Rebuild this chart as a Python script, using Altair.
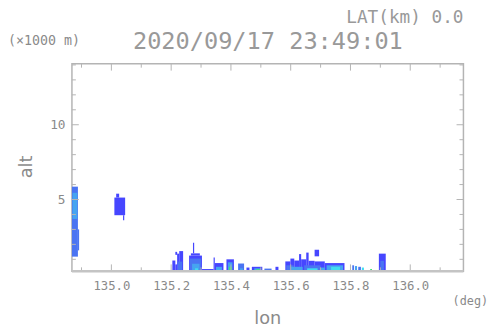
import altair as alt
import pandas as pd

# ---- data ----
lon_domain = [134.868, 136.178]
alt_domain = [0.2, 14.08]

echo_lon0 = [134.868, 134.888, 134.870,
             135.010, 135.016, 135.039,
             135.204, 135.214, 135.214, 135.220, 135.227, 135.222,
             135.260, 135.266, 135.273, 135.263, 135.270, 135.280, 135.303,
             135.342, 135.346, 135.350, 135.355,
             135.385, 135.390, 135.393,
             135.424, 135.430,
             135.452,
             135.470, 135.478, 135.485, 135.489, 135.512, 135.516, 135.549,
             135.582, 135.599, 135.612, 135.628, 135.635, 135.652, 135.660, 135.680, 135.680, 135.714,
             135.585, 135.600, 135.645, 135.655, 135.720, 135.735, 135.700,
             135.806, 135.815, 135.826, 135.838, 135.866,
             135.895, 135.900]
echo_lon1 = [134.888, 134.892, 134.886,
             135.046, 135.026, 135.043,
             135.214, 135.220, 135.220, 135.227, 135.240, 135.237,
             135.303, 135.296, 135.277, 135.300, 135.295, 135.290, 135.342,
             135.346, 135.375, 135.370, 135.365,
             135.410, 135.405, 135.403,
             135.444, 135.440,
             135.462,
             135.505, 135.500, 135.497, 135.494, 135.536, 135.530, 135.559,
             135.599, 135.612, 135.628, 135.635, 135.652, 135.660, 135.680, 135.695, 135.714, 135.780,
             135.610, 135.640, 135.700, 135.690, 135.775, 135.765, 135.715,
             135.812, 135.822, 135.835, 135.845, 135.872,
             135.918, 135.912]
echo_alt0 = [1.18, 1.60, 3.70,
             3.95, 5.13, 3.62,
             0.2, 0.2, 1.30, 0.2, 0.2, 0.2,
             0.2, 1.25, 1.40, 0.2, 0.2, 0.2, 0.2,
             0.2, 0.2, 0.2, 0.2,
             0.2, 0.2, 0.2,
             0.2, 0.2,
             0.2,
             0.2, 0.2, 0.2, 0.2, 0.2, 0.2, 0.2,
             0.2, 0.2, 0.2, 0.2, 0.2, 0.2, 0.2, 1.20, 0.2, 0.2,
             0.2, 0.2, 0.2, 0.2, 0.2, 0.2, 0.2,
             0.2, 0.2, 0.2, 0.2, 0.2,
             0.2, 0.2]
echo_alt1 = [5.86, 3.00, 5.45,
             5.13, 5.39, 3.95,
             0.92, 0.66, 1.50, 1.38, 1.55, 0.85,
             1.25, 1.40, 2.11, 1.05, 0.70, 0.40, 0.35,
             1.12, 0.75, 0.50, 0.30,
             1.00, 0.80, 0.50,
             0.72, 0.40,
             0.45,
             0.50, 0.40, 0.35, 0.28, 0.38, 0.28, 0.50,
             0.86, 1.05, 0.92, 1.35, 1.00, 1.45, 0.90, 1.64, 0.86, 0.75,
             0.60, 0.50, 0.60, 0.40, 0.60, 0.50, 0.45,
             0.60, 0.55, 0.50, 0.45, 0.35,
             1.38, 0.90]
echo_level = [2, 2, 3,
              1, 1, 1,
              1, 1, 1, 1, 1, 2,
              1, 1, 1, 2, 3, 4, 1,
              1, 1, 3, 4,
              1, 3, 5,
              2, 3,
              1,
              1, 3, 5, 6, 2, 4, 1,
              1, 1, 1, 1, 1, 1, 1, 1, 1, 1,
              2, 3, 2, 4, 3, 4, 3,
              2, 3, 2, 4, 5,
              1, 2]

level_values = [1, 2, 3, 4, 5, 6]
level_colors = ["#4646ff", "#4a74f2", "#46a4f0", "#40dcf0", "#44e07c", "#b4f03c"]

x_labels = [135.0, 135.2, 135.4, 135.6, 135.8, 136.0]
x_minor = [134.9, 135.1, 135.3, 135.5, 135.7, 135.9, 136.1]
y_labels = [5, 10]
y_minor = [1, 2, 3, 4, 6, 7, 8, 9, 11, 12, 13, 14]

W, H = 398, 211
GRAY = "#8a8a8a"
LIGHT = "#999999"
FRAME = "#b4b4b4"
MONO = "DejaVu Sans Mono"

echo = pd.DataFrame({"lon0": echo_lon0, "lon1": echo_lon1,
                     "alt0": echo_alt0, "alt1": echo_alt1, "level": echo_level})

xs = alt.Scale(domain=lon_domain, nice=False, zero=False)
ys = alt.Scale(domain=alt_domain, nice=False, zero=False)

rects = alt.Chart(echo).mark_rect(strokeWidth=0).encode(
    x=alt.X("lon0:Q", scale=xs,
            axis=alt.Axis(values=x_labels, format=".1f", title=None, ticks=False,
                          domain=False, grid=False, labelFont=MONO, labelFontSize=12.5,
                          labelColor=GRAY, labelPadding=9)),
    x2="lon1:Q",
    y=alt.Y("alt0:Q", scale=ys,
            axis=alt.Axis(values=y_labels, format="d", title=None, ticks=False,
                          domain=False, grid=False, labelFont=MONO, labelFontSize=13,
                          labelColor=GRAY, labelPadding=7)),
    y2="alt1:Q",
    color=alt.Color("level:O", scale=alt.Scale(domain=level_values, range=level_colors), legend=None),
)

xmaj = pd.DataFrame({"v": x_labels})
xmin = pd.DataFrame({"v": x_minor})
ymaj = pd.DataFrame({"v": y_labels})
ymin = pd.DataFrame({"v": y_minor})


def xticks(df, length):
    b = alt.Chart(df).mark_rule(color=FRAME, strokeWidth=1).encode(
        x=alt.X("v:Q", scale=xs), y=alt.value(H), y2=alt.value(H - length))
    t = alt.Chart(df).mark_rule(color=FRAME, strokeWidth=1).encode(
        x=alt.X("v:Q", scale=xs), y=alt.value(0), y2=alt.value(length))
    return b + t


def yticks(df, length):
    l = alt.Chart(df).mark_rule(color=FRAME, strokeWidth=1).encode(
        y=alt.Y("v:Q", scale=ys), x=alt.value(0), x2=alt.value(length))
    r = alt.Chart(df).mark_rule(color=FRAME, strokeWidth=1).encode(
        y=alt.Y("v:Q", scale=ys), x=alt.value(W), x2=alt.value(W - length))
    return l + r


bottom_line = alt.Chart(pd.DataFrame({"a": [0]})).mark_rule(color="#c4c4c4", strokeWidth=2.5).encode(
    x=alt.value(0), x2=alt.value(W), y=alt.value(H))


def label(text, x, y, size, font=MONO, align="left", angle=0, baseline="alphabetic", color=GRAY):
    return alt.Chart(pd.DataFrame({"t": [text]})).mark_text(
        font=font, fontSize=size, color=color, align=align, baseline=baseline, angle=angle
    ).encode(text="t:N", x=alt.value(x), y=alt.value(y))


texts = (
    label("LAT(km) 0.0", 398, -41, 18, align="right", color=LIGHT)
    + label("(\u00d71000 m)", -65, -19, 13.5)
    + label("2020/09/17 23:49:01", 62, -15, 24, color=LIGHT)
    + label("alt", -46, 105, 18, font="DejaVu Sans", align="center", angle=270, baseline="middle")
    + label("(deg)", 387, 245, 12)
    + label("lon", 199, 265, 18, font="DejaVu Sans", align="center")
)

chart = alt.layer(
    rects,
    xticks(xmin, 4), xticks(xmaj, 7),
    yticks(ymin, 4), yticks(ymaj, 7),
    bottom_line,
    texts,
).properties(
    width=W, height=H,
    autosize="none",
    padding={"left": 65, "top": 54, "right": 27, "bottom": 55},
).configure_view(stroke=FRAME, strokeWidth=1.5)

chart.save("out.html", embed_options={"renderer": "svg", "actions": False})
